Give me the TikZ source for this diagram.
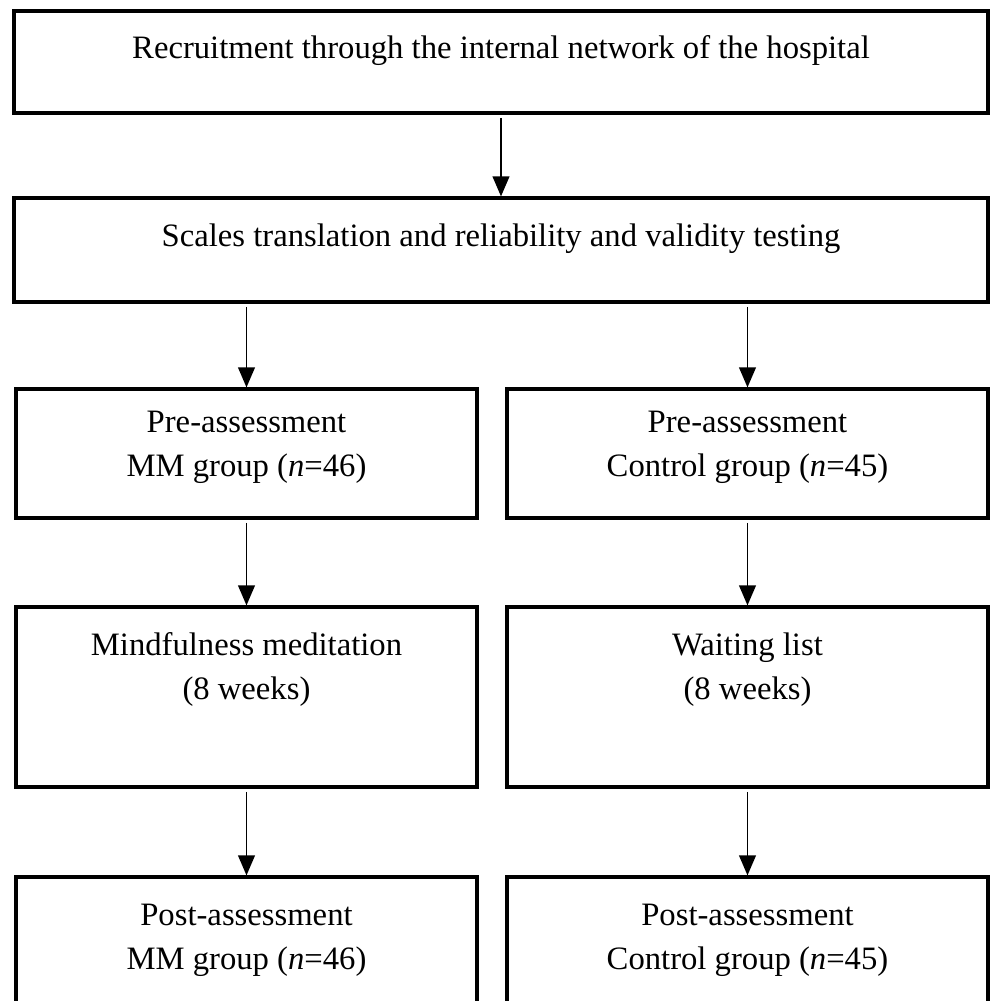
\documentclass[tikz,border=0pt]{standalone}
\usepackage{fontspec}
\setmainfont{Liberation Serif}
\usetikzlibrary{positioning,arrows.meta}

\tikzstyle{stage} =[draw, line width=2.4pt, inner sep=0pt, rectangle]
\tikzstyle{txt} =[inner sep=0pt, align=center,
font=\fontsize{24.5}{33}\selectfont]
\tikzstyle{flow} =[line width=1.4pt, shorten <=2.5pt,
-{Triangle[length=15pt,width=12.5pt]}]

\begin{document}
\begin{tikzpicture}[x=0.75pt, y=-0.75pt]
\useasboundingbox (0,0) rectangle (990,1001);
\clip (0,0) rectangle (990,1001);
% common part
\node[stage, minimum width=730.5pt, minimum height=76.5pt] (recruit) at (501,62) {};
\node[txt, below=19pt of recruit.north] (recruittext)
{Recruitment through the internal network of the hospital};
\node[stage, minimum width=730.5pt, minimum height=78pt] (scales) at (501,250) {};
\node[txt, below=20pt of scales.north] (scalestext)
{Scales translation and reliability and validity testing};
% MM group
\node[stage, minimum width=345.75pt, minimum height=96.75pt] (premm) at (246.5,453.5) {};
\node[txt, below=17.5pt of premm.north] (premmtext)
{Pre-assessment\\MM group (\textit{n}=46)};
\node[stage, minimum width=345.75pt, minimum height=135pt] (medit) at (246.5,697) {};
\node[txt, below=20pt of medit.north] (medittext)
{Mindfulness meditation\\(8 weeks)};
\node[stage, minimum width=345.75pt, minimum height=114.75pt] (postmm) at (246.5,953.5) {};
\node[txt, below=21pt of postmm.north] (postmmtext)
{Post-assessment\\MM group (\textit{n}=46)};
% control group
\node[stage, minimum width=360.75pt, minimum height=96.75pt] (precon) at (747.5,453.5) {};
\node[txt, below=17.5pt of precon.north] (precontext)
{Pre-assessment\\Control group (\textit{n}=45)};
\node[stage, minimum width=360.75pt, minimum height=135pt] (wait) at (747.5,697) {};
\node[txt, below=20pt of wait.north] (waittext)
{Waiting list\\(8 weeks)};
\node[stage, minimum width=360.75pt, minimum height=114.75pt] (postcon) at (747.5,953.5) {};
\node[txt, below=21pt of postcon.north] (postcontext)
{Post-assessment\\Control group (\textit{n}=45)};
% arrows
\draw[flow] (recruit.south) -- (scales.north);
\draw[flow] (scales.south -| premm.north) -- (premm.north);
\draw[flow] (scales.south -| precon.north) -- (precon.north);
\draw[flow] (premm.south) -- (medit.north);
\draw[flow] (precon.south) -- (wait.north);
\draw[flow] (medit.south) -- (postmm.north);
\draw[flow] (wait.south) -- (postcon.north);
\end{tikzpicture}
\end{document}
